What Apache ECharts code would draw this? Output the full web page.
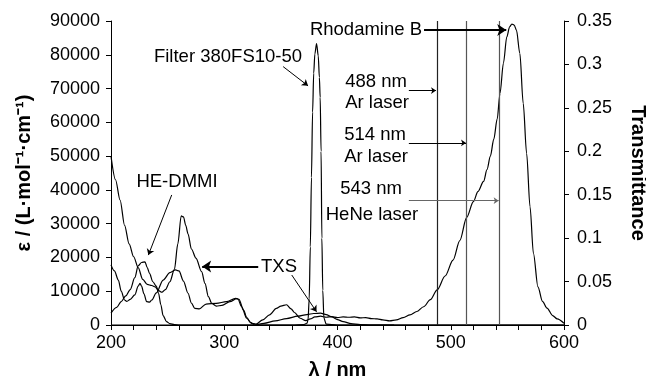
<!DOCTYPE html>
<html>
<head>
<meta charset="utf-8">
<script src="https://cdn.jsdelivr.net/npm/echarts@6.0.0/dist/echarts.min.js"></script>
<style>
    html, body { margin: 0; padding: 0; background: #fff; }
    #chart { width: 646px; height: 380px; }
</style>
</head>
<body>
<div id="chart"></div>
<script>
    // absorption spectra (nm, L/mol/cm)
    let txsNm = [200, 204, 208, 212, 216, 220, 224, 228, 232, 236, 239, 242, 245, 248, 252, 256, 259, 262, 264, 266, 268, 271, 275, 280, 283, 286, 289, 293, 298, 305, 311, 313, 317, 320, 323, 327, 335, 345, 355, 365, 373, 379, 385, 390, 395, 400, 405, 412, 420, 430, 600]
    let txsEps = [50000, 43000, 37000, 29500, 24000, 20200, 17000, 13500, 12000, 11700, 11300, 10200, 9700, 10500, 12800, 16500, 24000, 32300, 32000, 29500, 27000, 22500, 19800, 15800, 12300, 8400, 6400, 5600, 5800, 6900, 7800, 7600, 4400, 2200, 800, 0, 500, 1200, 1900, 2600, 3100, 3400, 3500, 3100, 2400, 1600, 1000, 400, 100, 0, 0]

    let dmmiNm = [200, 205, 209, 213, 217, 221, 224, 227, 230, 232, 234, 237, 240, 242, 244, 246, 249, 252, 256, 260, 450]
    let dmmiEps = [3500, 5200, 6900, 8600, 10500, 14000, 17500, 18500, 18700, 17000, 15300, 12800, 11500, 9400, 6000, 2800, 1000, 400, 100, 0, 0]

    let rhoNm = [200, 203, 206.5, 209, 212, 214, 217, 221, 224, 225.6, 227, 229, 231.5, 234, 236, 240, 246, 252, 257, 260, 264, 268, 271, 274, 278, 284, 293, 302, 310, 312, 315.4, 319.8, 324, 328, 334, 340, 346, 350, 355, 359, 362, 367, 372, 376, 380, 385, 390, 395, 400, 405, 410, 415, 420, 425, 430, 435, 440, 446, 452, 458, 464, 470, 476, 482, 488, 495, 502, 508, 514, 520, 524, 529, 532, 535, 538, 541, 543.5, 546.5, 549.5, 552, 554, 556, 558, 561, 564, 567, 570, 573, 577, 581, 585, 590, 594, 600]
    let rhoEps = [17800, 16000, 13300, 10000, 7400, 7000, 7600, 8900, 11500, 12300, 11500, 9300, 6900, 6800, 7400, 9500, 13300, 15500, 16300, 16000, 13000, 9400, 6500, 4900, 4800, 6200, 6400, 6900, 7900, 7700, 5400, 2000, 500, 300, 1500, 3000, 4900, 5600, 6000, 4800, 3700, 2000, 1300, 1800, 2400, 2600, 2300, 2500, 2200, 2400, 2300, 2400, 2100, 2200, 1900, 1800, 1500, 1200, 1500, 2200, 3000, 4000, 5400, 7500, 10400, 14500, 19200, 25000, 31800, 36500, 39500, 42500, 46000, 50000, 55000, 61000, 68600, 77500, 85300, 88300, 89100, 88800, 87300, 80400, 65600, 50800, 35000, 21200, 11300, 7000, 5000, 2800, 1800, 500]

    // filter transmittance (right axis)
    let filterNm = [200, 360, 370, 373, 374, 375, 376, 377, 378, 379, 380, 381.5, 383, 384, 384.7, 385.5, 386.2, 387, 388, 390, 400, 600]
    let filterT = [0, 0, 0.0005, 0.002, 0.006, 0.03, 0.09, 0.17, 0.245, 0.29, 0.312, 0.324, 0.31, 0.285, 0.262, 0.2, 0.1, 0.04, 0.008, 0.001, 0, 0]

    let laserNm = [488, 514, 543]
    let laserColor = ['#222', '#555', '#555']

    let fontName = 'Liberation Sans'
    let black = '#000'

    function zip(xs, ys) {
        return xs.map((x, i) => [x, ys[i]])
    }

    function spectrum(name, xs, ys, axis) {
        return {
            name: name,
            type: 'line',
            yAxisIndex: axis || 0,
            data: zip(xs, ys),
            symbol: 'none',
            smooth: 0.3,
            smoothMonotone: 'x',
            lineStyle: { color: black, width: 1.2 },
            silent: true
        }
    }

    // arrow from [x0, y0] to [x1, y1] in data units
    function arrow(x0, y0, x1, y1, width, color, size) {
        return [
            { coord: [x0, y0], symbol: 'none', lineStyle: { width: width, color: color || black, type: 'solid' } },
            { coord: [x1, y1], symbol: 'arrow', symbolSize: size || 7 }
        ]
    }

    // plain text label, centred on (x, y) unless align says otherwise
    function note(text, x, y, align) {
        return {
            type: 'text',
            x: x,
            y: y,
            silent: true,
            style: {
                text: text,
                font: '18.5px ' + fontName,
                fill: black,
                align: align || 'center',
                verticalAlign: 'middle'
            }
        }
    }

    let chart = echarts.init(document.getElementById('chart'))

    let axisLine = { show: true, lineStyle: { color: black, width: 1 } }
    let tick = { show: true, inside: false, length: 5, lineStyle: { color: black, width: 1 } }
    let label = { color: black, fontSize: 18, fontFamily: fontName }
    let titleStyle = { color: black, fontSize: 20, fontWeight: 'bold', fontFamily: fontName }

    let options = {
        animation: false,
        backgroundColor: '#fff',
        grid: { left: 111, right: 82, top: 21, bottom: 55, outerBoundsMode: 'none', containLabel: false },
        xAxis: {
            type: 'value',
            min: 200,
            max: 600,
            interval: 100,
            name: 'λ / nm',
            nameLocation: 'middle',
            nameGap: 35,
            nameTextStyle: titleStyle,
            axisLine: axisLine,
            axisTick: tick,
            minorTick: { show: true, splitNumber: 5, length: 5, lineStyle: { color: black, width: 1 } },
            splitLine: { show: false },
            axisLabel: Object.assign({ margin: 9 }, label)
        },
        yAxis: [
            {
                type: 'value',
                position: 'left',
                min: 0,
                max: 90000,
                interval: 10000,
                name: 'ε / (L·mol⁻¹·cm⁻¹)',
                nameLocation: 'middle',
                nameGap: 77,
                nameTextStyle: titleStyle,
                axisLine: axisLine,
                axisTick: tick,
                splitLine: { show: false },
                axisLabel: Object.assign({
                    margin: 11,
                    formatter: function (v) { return String(v) }
                }, label)
            },
            {
                type: 'value',
                position: 'right',
                min: 0,
                max: 0.35,
                interval: 0.05,
                name: 'Transmittance',
                nameLocation: 'middle',
                nameRotate: -90,
                nameGap: 64,
                nameTextStyle: titleStyle,
                axisLine: axisLine,
                axisTick: tick,
                splitLine: { show: false },
                axisLabel: Object.assign({
                    margin: 13,
                    formatter: function (v) { return String(+v.toFixed(2)) }
                }, label)
            }
        ],
        series: [
            spectrum('TXS', txsNm, txsEps),
            spectrum('HE-DMMI', dmmiNm, dmmiEps),
            spectrum('Rhodamine B', rhoNm, rhoEps),
            spectrum('Filter 380FS10-50', filterNm, filterT, 1),
            {
                // laser lines and arrows
                type: 'line',
                data: [],
                silent: true,
                markLine: {
                    silent: true,
                    animation: false,
                    label: { show: false },
                    emphasis: { disabled: true },
                    symbol: 'none',
                    lineStyle: { type: 'solid' },
                    data: laserNm.map((nm, i) => ({
                        xAxis: nm,
                        lineStyle: { color: laserColor[i], width: 1.2, type: 'solid' }
                    })).concat([
                        arrow(476.4, 87300, 549, 87300, 2, black, 9),
                        arrow(330, 17300, 280.5, 17300, 2, black, 9),
                        arrow(352, 76500, 374, 70800, 1, black, 6),
                        arrow(253.6, 38500, 233, 20700, 1, black, 6),
                        arrow(359.6, 14800, 381.5, 3900, 1, black, 6),
                        arrow(463, 69400, 487, 69400, 1, black, 5),
                        arrow(463, 53900, 513.5, 53900, 1, black, 5),
                        arrow(463, 36800, 542.3, 36800, 1, '#666', 5)
                    ])
                }
            }
        ],
        graphic: [
            note('Filter 380FS10-50', 228, 57),
            note('HE-DMMI', 177, 182),
            note('TXS', 279, 267),
            note('Rhodamine B', 422, 30, 'right'),
            note('488 nm', 376, 82),
            note('Ar laser', 377, 103),
            note('514 nm', 375, 135),
            note('Ar laser', 376, 157),
            note('543 nm', 371, 189),
            note('HeNe laser', 372, 215)
        ]
    }

    chart.setOption(options)
</script>
</body>
</html>
